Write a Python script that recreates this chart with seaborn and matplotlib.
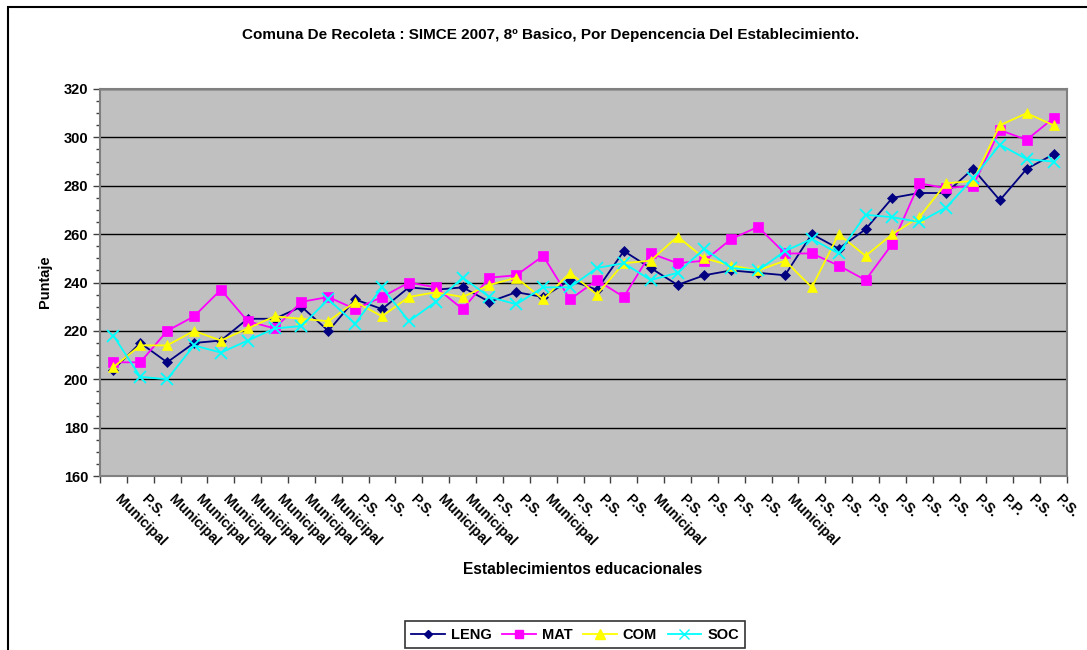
import pandas as pd
import numpy as np
import matplotlib
matplotlib.use("Agg")
import matplotlib.pyplot as plt
import matplotlib.transforms as mtransforms
from matplotlib.lines import Line2D
from matplotlib.patches import Rectangle
import seaborn as sns

# Datos
establecimientos = ["Municipal", "P.S.", "Municipal", "Municipal", "Municipal", "Municipal",
                    "Municipal", "Municipal", "Municipal", "P.S.", "P.S.", "P.S.",
                    "Municipal", "Municipal", "P.S.", "P.S.", "Municipal", "P.S.",
                    "P.S.", "P.S.", "Municipal", "P.S.", "P.S.", "P.S.",
                    "P.S.", "Municipal", "P.S.", "P.S.", "P.S.", "P.S.",
                    "P.S.", "P.S.", "P.S.", "P.P.", "P.S.", "P.S."]

leng = [204, 215, 207, 215, 216, 225, 225, 230, 220, 233, 229, 238,
        237, 238, 232, 236, 234, 241, 237, 253, 246, 239, 243, 245,
        244, 243, 260, 254, 262, 275, 277, 277, 287, 274, 287, 293]
mat = [207, 207, 220, 226, 237, 224, 221, 232, 234, 229, 234, 240,
       238, 229, 242, 243, 251, 233, 241, 234, 252, 248, 249, 258,
       263, 252, 252, 247, 241, 256, 281, 279, 280, 303, 299, 308]
com = [205, 214, 214, 220, 216, 221, 226, 225, 224, 232, 226, 234,
       236, 234, 239, 242, 233, 244, 235, 248, 249, 259, 250, 247,
       245, 249, 238, 260, 251, 260, 267, 281, 282, 305, 310, 305]
soc = [218, 201, 200, 214, 211, 216, 221, 222, 233, 223, 238, 224,
       232, 242, 234, 231, 238, 238, 246, 248, 241, 244, 254, 246,
       245, 253, 258, 252, 268, 267, 265, 271, 283, 297, 291, 290]

series = {"LENG": leng, "MAT": mat, "COM": com, "SOC": soc}
colores = {"LENG": "#000080", "MAT": "#FF00FF", "COM": "#FFFF00", "SOC": "#00FFFF"}
marcadores = {"LENG": "D", "MAT": "s", "COM": "^", "SOC": "x"}
tam_marc = {"LENG": 5.5, "MAT": 6.5, "COM": 7.5, "SOC": 8}

filas = []
for nombre, valores in series.items():
    for i, v in enumerate(valores):
        filas.append({"pos": i, "puntaje": v, "asig": nombre})
df = pd.DataFrame(filas)

plt.rcParams["font.family"] = ["Liberation Sans", "DejaVu Sans"]
plt.rcParams["font.weight"] = "bold"

W, H = 1087, 650
fig = plt.figure(figsize=(W / 100, H / 100), dpi=100)
ax = fig.add_axes([100 / W, 1 - 476 / H, (1067 - 100) / W, (476 - 89) / H])
ax.set_facecolor("#C0C0C0")

# borde exterior del grafico (solo visibles izquierda y arriba)
fig.add_artist(Rectangle((8 / W, -0.2), 1.2, 1.2 - 7 / H, transform=fig.transFigure,
                         fill=False, edgecolor="black", linewidth=1.5))

for nombre in series:
    sns.lineplot(data=df[df["asig"] == nombre], x="pos", y="puntaje",
                 color=colores[nombre], marker=marcadores[nombre],
                 markersize=tam_marc[nombre], markeredgecolor=colores[nombre],
                 markeredgewidth=1.3 if nombre == "SOC" else 0.5,
                 linewidth=1.3, legend=False, ax=ax, zorder=3)

ax.set_xlim(-0.5, len(establecimientos) - 0.5)
ax.set_ylim(160, 320)
ax.set_yticks(np.arange(160, 321, 20))
ax.set_yticks(np.arange(160, 321, 5), minor=True)
ax.yaxis.grid(True, color="black", linewidth=1.0)
ax.set_axisbelow(True)

ax.set_xticks(np.arange(len(establecimientos)))
ax.set_xticklabels(establecimientos, rotation=-45, ha="left", va="center",
                   rotation_mode="anchor", fontsize=10.3, fontweight="bold")
ax.set_xticks(np.arange(-0.5, len(establecimientos), 1), minor=True)
ax.tick_params(axis="x", which="major", length=0, pad=15)
ax.tick_params(axis="x", which="minor", length=5, width=1, color="#404040")
ax.tick_params(axis="y", which="major", length=5, width=1, labelsize=10.5, color="#404040")
ax.tick_params(axis="y", which="minor", length=3, width=1, color="#404040")
for lab in ax.get_yticklabels():
    lab.set_fontweight("bold")
desplazar = mtransforms.ScaledTranslation(4 / 100, 0, fig.dpi_scale_trans)
for lab in ax.get_xticklabels():
    lab.set_transform(lab.get_transform() + desplazar)

for lado in ["top", "right", "bottom", "left"]:
    ax.spines[lado].set_color("#808080")
    ax.spines[lado].set_linewidth(1.5)

ax.set_xlabel("")
ax.set_ylabel("")
fig.text(45 / W, 1 - 282 / H, "Puntaje", rotation=90, ha="center", va="center",
         fontsize=10.5, fontweight="bold")
fig.text(583 / W, 1 - 570 / H, "Establecimientos educacionales", ha="center", va="center",
         fontsize=11.2, fontweight="bold")
fig.text(551 / W, 1 - 35 / H,
         "Comuna De Recoleta : SIMCE 2007, 8º Basico, Por Depencencia Del Establecimiento.",
         ha="center", va="center", fontsize=11, fontweight="bold")

# leyenda
manejadores = [Line2D([0], [0], color=colores[n], marker=marcadores[n], markersize=tam_marc[n] - 1,
                      markeredgecolor=colores[n], markerfacecolor=colores[n], linewidth=1.3)
               for n in series]
leg = fig.legend(manejadores, list(series.keys()), loc="upper center",
                 bbox_to_anchor=(575 / W, 1 - 614 / H), ncol=4, frameon=True,
                 fancybox=False, edgecolor="black", handlelength=2.3, handletextpad=0.4,
                 columnspacing=0.75, borderpad=0.45, prop={"weight": "bold", "size": 10.5})
leg.get_frame().set_linewidth(1.2)

fig.savefig("out.png", dpi=100, facecolor="white")
